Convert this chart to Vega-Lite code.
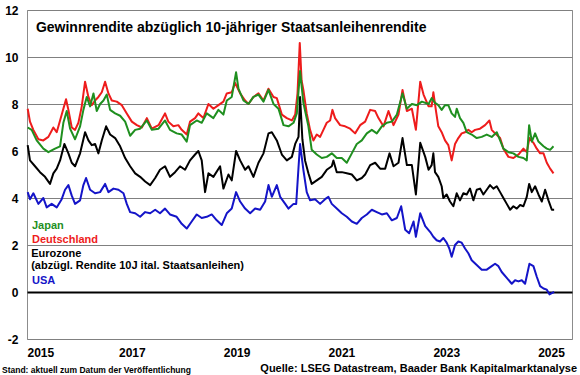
{
"$schema": "https://vega.github.io/schema/vega-lite/v6.json",
"width": 545, "height": 329,
"autosize": "none",
"padding": {"left": 27, "top": 10, "right": 8, "bottom": 36},
"background": "white",
"config": {"view": {"stroke": "#8c8c8c", "strokeWidth": 1}, "font": "Liberation Sans"},
"datasets": {
"lines": [
{"s":"USA","t":2015.013,"v":4.25},{"s":"USA","t":2015.057,"v":3.95},{"s":"USA","t":2015.121,"v":4.2},{"s":"USA","t":2015.217,"v":3.75},{"s":"USA","t":2015.312,"v":4.0},{"s":"USA","t":2015.376,"v":3.6},{"s":"USA","t":2015.471,"v":3.75},{"s":"USA","t":2015.567,"v":3.6},{"s":"USA","t":2015.662,"v":3.95},{"s":"USA","t":2015.726,"v":4.35},{"s":"USA","t":2015.79,"v":4.55},{"s":"USA","t":2015.854,"v":4.1},{"s":"USA","t":2015.917,"v":3.75},{"s":"USA","t":2016.013,"v":3.9},{"s":"USA","t":2016.076,"v":4.55},{"s":"USA","t":2016.127,"v":4.85},{"s":"USA","t":2016.204,"v":4.35},{"s":"USA","t":2016.299,"v":4.2},{"s":"USA","t":2016.395,"v":4.25},{"s":"USA","t":2016.49,"v":4.6},{"s":"USA","t":2016.554,"v":4.25},{"s":"USA","t":2016.65,"v":4.4},{"s":"USA","t":2016.745,"v":4.35},{"s":"USA","t":2016.841,"v":4.2},{"s":"USA","t":2016.904,"v":3.75},{"s":"USA","t":2016.968,"v":3.4},{"s":"USA","t":2017.064,"v":3.35},{"s":"USA","t":2017.159,"v":3.2},{"s":"USA","t":2017.255,"v":3.4},{"s":"USA","t":2017.35,"v":3.35},{"s":"USA","t":2017.446,"v":3.5},
{"s":"USA","t":2017.538,"v":3.35},{"s":"USA","t":2017.634,"v":3.55},{"s":"USA","t":2017.729,"v":3.3},{"s":"USA","t":2017.856,"v":3.2},{"s":"USA","t":2017.952,"v":2.9},{"s":"USA","t":2018.048,"v":2.7},{"s":"USA","t":2018.143,"v":3.0},{"s":"USA","t":2018.239,"v":3.3},{"s":"USA","t":2018.334,"v":3.15},{"s":"USA","t":2018.43,"v":3.2},{"s":"USA","t":2018.525,"v":3.3},{"s":"USA","t":2018.621,"v":3.05},{"s":"USA","t":2018.716,"v":2.85},{"s":"USA","t":2018.812,"v":3.35},{"s":"USA","t":2018.907,"v":3.55},{"s":"USA","t":2018.99,"v":4.25},{"s":"USA","t":2019.067,"v":3.85},{"s":"USA","t":2019.162,"v":3.55},{"s":"USA","t":2019.258,"v":3.35},{"s":"USA","t":2019.353,"v":3.55},{"s":"USA","t":2019.449,"v":3.5},{"s":"USA","t":2019.544,"v":3.85},{"s":"USA","t":2019.608,"v":4.55},{"s":"USA","t":2019.672,"v":4.05},{"s":"USA","t":2019.767,"v":4.55},{"s":"USA","t":2019.831,"v":4.05},{"s":"USA","t":2019.927,"v":3.75},{"s":"USA","t":2019.99,"v":3.55},{"s":"USA","t":2020.086,"v":3.75},{"s":"USA","t":2020.137,"v":3.75},{"s":"USA","t":2020.181,"v":5.3},
{"s":"USA","t":2020.211,"v":6.3},{"s":"USA","t":2020.274,"v":5.2},{"s":"USA","t":2020.338,"v":4.25},{"s":"USA","t":2020.402,"v":3.9},{"s":"USA","t":2020.497,"v":3.95},{"s":"USA","t":2020.593,"v":3.75},{"s":"USA","t":2020.688,"v":3.95},{"s":"USA","t":2020.752,"v":4.05},{"s":"USA","t":2020.816,"v":3.75},{"s":"USA","t":2020.911,"v":3.55},{"s":"USA","t":2021.007,"v":3.35},{"s":"USA","t":2021.102,"v":3.2},{"s":"USA","t":2021.198,"v":3.0},{"s":"USA","t":2021.293,"v":2.9},{"s":"USA","t":2021.389,"v":3.15},{"s":"USA","t":2021.484,"v":3.3},{"s":"USA","t":2021.58,"v":3.5},{"s":"USA","t":2021.675,"v":3.4},{"s":"USA","t":2021.771,"v":3.3},{"s":"USA","t":2021.867,"v":3.35},{"s":"USA","t":2021.962,"v":3.05},{"s":"USA","t":2022.058,"v":3.15},{"s":"USA","t":2022.14,"v":3.65},{"s":"USA","t":2022.217,"v":2.65},{"s":"USA","t":2022.293,"v":2.5},{"s":"USA","t":2022.376,"v":3.0},{"s":"USA","t":2022.421,"v":2.35},{"s":"USA","t":2022.504,"v":3.35},{"s":"USA","t":2022.599,"v":2.8},{"s":"USA","t":2022.695,"v":2.55},
{"s":"USA","t":2022.754,"v":2.35},{"s":"USA","t":2022.817,"v":2.2},{"s":"USA","t":2022.881,"v":2.15},{"s":"USA","t":2022.945,"v":2.3},{"s":"USA","t":2023.008,"v":2.1},{"s":"USA","t":2023.059,"v":1.85},{"s":"USA","t":2023.104,"v":1.5},{"s":"USA","t":2023.168,"v":2.0},{"s":"USA","t":2023.231,"v":2.15},{"s":"USA","t":2023.295,"v":2.1},{"s":"USA","t":2023.359,"v":1.85},{"s":"USA","t":2023.422,"v":1.65},{"s":"USA","t":2023.486,"v":1.35},{"s":"USA","t":2023.582,"v":1.15},{"s":"USA","t":2023.677,"v":0.95},{"s":"USA","t":2023.773,"v":0.95},{"s":"USA","t":2023.868,"v":1.1},{"s":"USA","t":2023.932,"v":1.2},{"s":"USA","t":2023.996,"v":1.1},{"s":"USA","t":2024.059,"v":0.85},{"s":"USA","t":2024.155,"v":0.6},{"s":"USA","t":2024.251,"v":0.35},{"s":"USA","t":2024.314,"v":0.5},{"s":"USA","t":2024.378,"v":0.45},{"s":"USA","t":2024.442,"v":0.5},{"s":"USA","t":2024.505,"v":0.35},{"s":"USA","t":2024.588,"v":1.2},{"s":"USA","t":2024.664,"v":1.1},{"s":"USA","t":2024.728,"v":0.65},{"s":"USA","t":2024.792,"v":0.25},{"s":"USA","t":2024.856,"v":0.15},{"s":"USA","t":2024.919,"v":0.1},{"s":"USA","t":2024.97,"v":-0.1},{"s":"USA","t":2025.015,"v":-0.05},{"s":"USA","t":2025.059,"v":0.0},

{"s":"Eurozone","t":2015.013,"v":6.25},{"s":"Eurozone","t":2015.057,"v":5.6},{"s":"Eurozone","t":2015.153,"v":5.35},{"s":"Eurozone","t":2015.248,"v":5.1},{"s":"Eurozone","t":2015.344,"v":4.9},{"s":"Eurozone","t":2015.439,"v":4.6},{"s":"Eurozone","t":2015.503,"v":5.05},{"s":"Eurozone","t":2015.567,"v":5.25},{"s":"Eurozone","t":2015.631,"v":5.6},{"s":"Eurozone","t":2015.713,"v":6.3},{"s":"Eurozone","t":2015.79,"v":5.9},{"s":"Eurozone","t":2015.854,"v":5.5},{"s":"Eurozone","t":2015.917,"v":5.35},{"s":"Eurozone","t":2016.013,"v":5.9},{"s":"Eurozone","t":2016.108,"v":6.8},{"s":"Eurozone","t":2016.172,"v":6.45},{"s":"Eurozone","t":2016.236,"v":6.25},{"s":"Eurozone","t":2016.299,"v":6.3},{"s":"Eurozone","t":2016.363,"v":5.9},{"s":"Eurozone","t":2016.427,"v":6.45},{"s":"Eurozone","t":2016.51,"v":7.05},{"s":"Eurozone","t":2016.586,"v":6.7},{"s":"Eurozone","t":2016.682,"v":6.55},{"s":"Eurozone","t":2016.777,"v":6.2},{"s":"Eurozone","t":2016.873,"v":5.7},{"s":"Eurozone","t":2016.968,"v":5.35},{"s":"Eurozone","t":2017.064,"v":5.05},{"s":"Eurozone","t":2017.159,"v":4.9},{"s":"Eurozone","t":2017.255,"v":4.7},{"s":"Eurozone","t":2017.35,"v":4.55},{"s":"Eurozone","t":2017.446,"v":4.85},
{"s":"Eurozone","t":2017.538,"v":5.2},{"s":"Eurozone","t":2017.634,"v":5.35},{"s":"Eurozone","t":2017.729,"v":4.9},{"s":"Eurozone","t":2017.825,"v":5.1},{"s":"Eurozone","t":2017.92,"v":5.35},{"s":"Eurozone","t":2018.016,"v":5.2},{"s":"Eurozone","t":2018.111,"v":5.6},{"s":"Eurozone","t":2018.207,"v":5.85},{"s":"Eurozone","t":2018.27,"v":6.0},{"s":"Eurozone","t":2018.334,"v":5.6},{"s":"Eurozone","t":2018.398,"v":4.25},{"s":"Eurozone","t":2018.462,"v":5.05},{"s":"Eurozone","t":2018.557,"v":4.9},{"s":"Eurozone","t":2018.685,"v":5.35},{"s":"Eurozone","t":2018.748,"v":4.4},{"s":"Eurozone","t":2018.844,"v":5.0},{"s":"Eurozone","t":2018.907,"v":4.75},{"s":"Eurozone","t":2018.99,"v":6.0},{"s":"Eurozone","t":2019.067,"v":5.6},{"s":"Eurozone","t":2019.162,"v":5.2},{"s":"Eurozone","t":2019.226,"v":5.35},{"s":"Eurozone","t":2019.321,"v":4.9},{"s":"Eurozone","t":2019.417,"v":5.5},{"s":"Eurozone","t":2019.513,"v":5.9},{"s":"Eurozone","t":2019.608,"v":6.75},{"s":"Eurozone","t":2019.672,"v":6.8},{"s":"Eurozone","t":2019.767,"v":6.45},{"s":"Eurozone","t":2019.863,"v":5.85},{"s":"Eurozone","t":2019.958,"v":5.6},{"s":"Eurozone","t":2020.054,"v":5.75},{"s":"Eurozone","t":2020.118,"v":6.3},{"s":"Eurozone","t":2020.181,"v":6.6},
{"s":"Eurozone","t":2020.211,"v":8.3},{"s":"Eurozone","t":2020.255,"v":6.5},{"s":"Eurozone","t":2020.306,"v":5.6},{"s":"Eurozone","t":2020.37,"v":5.05},{"s":"Eurozone","t":2020.433,"v":4.6},{"s":"Eurozone","t":2020.529,"v":4.75},{"s":"Eurozone","t":2020.625,"v":4.9},{"s":"Eurozone","t":2020.72,"v":5.2},{"s":"Eurozone","t":2020.816,"v":5.35},{"s":"Eurozone","t":2020.847,"v":5.6},{"s":"Eurozone","t":2020.911,"v":5.1},{"s":"Eurozone","t":2021.007,"v":5.1},{"s":"Eurozone","t":2021.102,"v":5.05},{"s":"Eurozone","t":2021.198,"v":5.0},{"s":"Eurozone","t":2021.293,"v":4.75},{"s":"Eurozone","t":2021.389,"v":4.85},{"s":"Eurozone","t":2021.453,"v":5.0},{"s":"Eurozone","t":2021.548,"v":5.4},{"s":"Eurozone","t":2021.644,"v":5.5},{"s":"Eurozone","t":2021.739,"v":5.25},{"s":"Eurozone","t":2021.835,"v":5.25},{"s":"Eurozone","t":2021.918,"v":5.9},{"s":"Eurozone","t":2021.994,"v":5.35},{"s":"Eurozone","t":2022.089,"v":5.5},{"s":"Eurozone","t":2022.166,"v":6.55},{"s":"Eurozone","t":2022.249,"v":5.4},{"s":"Eurozone","t":2022.344,"v":5.4},{"s":"Eurozone","t":2022.421,"v":4.15},{"s":"Eurozone","t":2022.504,"v":6.35},{"s":"Eurozone","t":2022.599,"v":5.75},{"s":"Eurozone","t":2022.663,"v":5.2},
{"s":"Eurozone","t":2022.722,"v":5.4},{"s":"Eurozone","t":2022.754,"v":5.9},{"s":"Eurozone","t":2022.786,"v":5.1},{"s":"Eurozone","t":2022.849,"v":4.9},{"s":"Eurozone","t":2022.913,"v":4.5},{"s":"Eurozone","t":2022.945,"v":4.0},{"s":"Eurozone","t":2023.008,"v":4.15},{"s":"Eurozone","t":2023.072,"v":3.85},{"s":"Eurozone","t":2023.136,"v":3.65},{"s":"Eurozone","t":2023.2,"v":4.2},{"s":"Eurozone","t":2023.263,"v":3.9},{"s":"Eurozone","t":2023.327,"v":4.2},{"s":"Eurozone","t":2023.391,"v":4.15},{"s":"Eurozone","t":2023.454,"v":4.4},{"s":"Eurozone","t":2023.518,"v":3.9},{"s":"Eurozone","t":2023.582,"v":4.35},{"s":"Eurozone","t":2023.645,"v":4.4},{"s":"Eurozone","t":2023.709,"v":4.15},{"s":"Eurozone","t":2023.773,"v":4.35},{"s":"Eurozone","t":2023.836,"v":4.55},{"s":"Eurozone","t":2023.9,"v":4.4},{"s":"Eurozone","t":2023.964,"v":4.5},{"s":"Eurozone","t":2024.028,"v":4.25},{"s":"Eurozone","t":2024.091,"v":4.0},{"s":"Eurozone","t":2024.155,"v":3.75},{"s":"Eurozone","t":2024.219,"v":3.5},{"s":"Eurozone","t":2024.282,"v":3.65},{"s":"Eurozone","t":2024.346,"v":3.55},{"s":"Eurozone","t":2024.41,"v":3.7},{"s":"Eurozone","t":2024.473,"v":3.65},{"s":"Eurozone","t":2024.537,"v":4.05},{"s":"Eurozone","t":2024.582,"v":4.6},{"s":"Eurozone","t":2024.633,"v":4.25},{"s":"Eurozone","t":2024.696,"v":4.5},{"s":"Eurozone","t":2024.76,"v":4.15},{"s":"Eurozone","t":2024.824,"v":3.85},{"s":"Eurozone","t":2024.887,"v":4.35},{"s":"Eurozone","t":2024.951,"v":3.9},{"s":"Eurozone","t":2025.015,"v":3.5},{"s":"Eurozone","t":2025.059,"v":3.5},

{"s":"Deutschland","t":2015.013,"v":7.8},{"s":"Deutschland","t":2015.057,"v":7.25},{"s":"Deutschland","t":2015.121,"v":6.9},{"s":"Deutschland","t":2015.217,"v":6.5},{"s":"Deutschland","t":2015.312,"v":6.45},{"s":"Deutschland","t":2015.408,"v":6.6},{"s":"Deutschland","t":2015.503,"v":7.0},{"s":"Deutschland","t":2015.567,"v":6.8},{"s":"Deutschland","t":2015.631,"v":7.3},{"s":"Deutschland","t":2015.694,"v":7.8},{"s":"Deutschland","t":2015.745,"v":8.2},{"s":"Deutschland","t":2015.79,"v":7.75},{"s":"Deutschland","t":2015.854,"v":7.0},{"s":"Deutschland","t":2015.917,"v":6.9},{"s":"Deutschland","t":2015.981,"v":7.2},{"s":"Deutschland","t":2016.045,"v":7.9},{"s":"Deutschland","t":2016.108,"v":8.95},{"s":"Deutschland","t":2016.172,"v":8.3},{"s":"Deutschland","t":2016.236,"v":7.95},{"s":"Deutschland","t":2016.299,"v":8.15},{"s":"Deutschland","t":2016.363,"v":8.3},{"s":"Deutschland","t":2016.427,"v":8.5},{"s":"Deutschland","t":2016.49,"v":8.95},{"s":"Deutschland","t":2016.554,"v":8.45},{"s":"Deutschland","t":2016.618,"v":8.15},{"s":"Deutschland","t":2016.713,"v":8.1},{"s":"Deutschland","t":2016.809,"v":7.95},{"s":"Deutschland","t":2016.904,"v":7.6},{"s":"Deutschland","t":2017.0,"v":7.25},{"s":"Deutschland","t":2017.096,"v":7.1},{"s":"Deutschland","t":2017.191,"v":7.0},{"s":"Deutschland","t":2017.287,"v":7.4},{"s":"Deutschland","t":2017.382,"v":6.95},{"s":"Deutschland","t":2017.51,"v":7.1},
{"s":"Deutschland","t":2017.634,"v":7.6},{"s":"Deutschland","t":2017.697,"v":7.25},{"s":"Deutschland","t":2017.793,"v":7.05},{"s":"Deutschland","t":2017.888,"v":7.1},{"s":"Deutschland","t":2017.952,"v":6.9},{"s":"Deutschland","t":2018.048,"v":6.7},{"s":"Deutschland","t":2018.111,"v":7.25},{"s":"Deutschland","t":2018.207,"v":7.4},{"s":"Deutschland","t":2018.27,"v":7.6},{"s":"Deutschland","t":2018.366,"v":7.4},{"s":"Deutschland","t":2018.462,"v":8.0},{"s":"Deutschland","t":2018.557,"v":7.8},{"s":"Deutschland","t":2018.653,"v":7.95},{"s":"Deutschland","t":2018.748,"v":8.1},{"s":"Deutschland","t":2018.812,"v":8.45},{"s":"Deutschland","t":2018.907,"v":8.5},{"s":"Deutschland","t":2018.971,"v":8.9},{"s":"Deutschland","t":2019.067,"v":8.45},{"s":"Deutschland","t":2019.162,"v":8.15},{"s":"Deutschland","t":2019.226,"v":8.0},{"s":"Deutschland","t":2019.321,"v":8.3},{"s":"Deutschland","t":2019.417,"v":8.45},{"s":"Deutschland","t":2019.513,"v":8.15},{"s":"Deutschland","t":2019.608,"v":8.65},{"s":"Deutschland","t":2019.704,"v":8.3},{"s":"Deutschland","t":2019.767,"v":8.25},{"s":"Deutschland","t":2019.863,"v":7.55},{"s":"Deutschland","t":2019.958,"v":7.4},{"s":"Deutschland","t":2020.054,"v":7.3},{"s":"Deutschland","t":2020.118,"v":7.55},{"s":"Deutschland","t":2020.162,"v":8.45},
{"s":"Deutschland","t":2020.205,"v":10.6},{"s":"Deutschland","t":2020.24,"v":9.0},{"s":"Deutschland","t":2020.274,"v":8.6},{"s":"Deutschland","t":2020.338,"v":7.6},{"s":"Deutschland","t":2020.402,"v":6.9},{"s":"Deutschland","t":2020.465,"v":6.45},{"s":"Deutschland","t":2020.529,"v":6.7},{"s":"Deutschland","t":2020.593,"v":6.6},{"s":"Deutschland","t":2020.656,"v":6.9},{"s":"Deutschland","t":2020.72,"v":7.2},{"s":"Deutschland","t":2020.784,"v":7.3},{"s":"Deutschland","t":2020.828,"v":7.75},{"s":"Deutschland","t":2020.879,"v":7.4},{"s":"Deutschland","t":2020.975,"v":7.1},{"s":"Deutschland","t":2021.07,"v":7.05},{"s":"Deutschland","t":2021.166,"v":6.95},{"s":"Deutschland","t":2021.261,"v":6.75},{"s":"Deutschland","t":2021.357,"v":7.1},{"s":"Deutschland","t":2021.453,"v":7.25},{"s":"Deutschland","t":2021.548,"v":7.75},{"s":"Deutschland","t":2021.644,"v":7.7},{"s":"Deutschland","t":2021.707,"v":7.4},{"s":"Deutschland","t":2021.803,"v":7.05},{"s":"Deutschland","t":2021.898,"v":7.7},{"s":"Deutschland","t":2021.994,"v":7.1},{"s":"Deutschland","t":2022.089,"v":7.55},{"s":"Deutschland","t":2022.166,"v":8.6},{"s":"Deutschland","t":2022.249,"v":7.7},{"s":"Deutschland","t":2022.344,"v":7.8},{"s":"Deutschland","t":2022.421,"v":6.9},{"s":"Deutschland","t":2022.504,"v":8.95},{"s":"Deutschland","t":2022.567,"v":8.4},{"s":"Deutschland","t":2022.663,"v":7.9},
{"s":"Deutschland","t":2022.722,"v":7.9},{"s":"Deutschland","t":2022.754,"v":8.5},{"s":"Deutschland","t":2022.805,"v":7.7},{"s":"Deutschland","t":2022.849,"v":7.05},{"s":"Deutschland","t":2022.913,"v":6.8},{"s":"Deutschland","t":2022.977,"v":6.45},{"s":"Deutschland","t":2023.04,"v":6.25},{"s":"Deutschland","t":2023.104,"v":5.6},{"s":"Deutschland","t":2023.168,"v":6.3},{"s":"Deutschland","t":2023.231,"v":6.55},{"s":"Deutschland","t":2023.295,"v":6.75},{"s":"Deutschland","t":2023.359,"v":6.8},{"s":"Deutschland","t":2023.422,"v":6.9},{"s":"Deutschland","t":2023.486,"v":6.8},{"s":"Deutschland","t":2023.55,"v":6.9},{"s":"Deutschland","t":2023.645,"v":6.95},{"s":"Deutschland","t":2023.741,"v":7.1},{"s":"Deutschland","t":2023.824,"v":7.3},{"s":"Deutschland","t":2023.868,"v":6.9},{"s":"Deutschland","t":2023.932,"v":6.75},{"s":"Deutschland","t":2024.028,"v":6.55},{"s":"Deutschland","t":2024.091,"v":6.1},{"s":"Deutschland","t":2024.187,"v":5.75},{"s":"Deutschland","t":2024.282,"v":5.7},{"s":"Deutschland","t":2024.378,"v":5.85},{"s":"Deutschland","t":2024.473,"v":6.1},{"s":"Deutschland","t":2024.537,"v":5.95},{"s":"Deutschland","t":2024.588,"v":6.55},{"s":"Deutschland","t":2024.664,"v":6.35},{"s":"Deutschland","t":2024.728,"v":6.1},{"s":"Deutschland","t":2024.792,"v":5.9},{"s":"Deutschland","t":2024.856,"v":5.9},{"s":"Deutschland","t":2024.919,"v":5.5},{"s":"Deutschland","t":2024.983,"v":5.25},{"s":"Deutschland","t":2025.047,"v":5.05},

{"s":"Japan","t":2015.013,"v":7.0},{"s":"Japan","t":2015.089,"v":6.9},{"s":"Japan","t":2015.185,"v":6.45},{"s":"Japan","t":2015.312,"v":6.1},{"s":"Japan","t":2015.408,"v":5.95},{"s":"Japan","t":2015.535,"v":6.1},{"s":"Japan","t":2015.631,"v":6.2},{"s":"Japan","t":2015.694,"v":7.2},{"s":"Japan","t":2015.758,"v":7.7},{"s":"Japan","t":2015.822,"v":6.95},{"s":"Japan","t":2015.917,"v":6.5},{"s":"Japan","t":2016.013,"v":7.05},{"s":"Japan","t":2016.076,"v":7.75},{"s":"Japan","t":2016.14,"v":8.3},{"s":"Japan","t":2016.204,"v":7.9},{"s":"Japan","t":2016.268,"v":8.45},{"s":"Japan","t":2016.331,"v":7.7},{"s":"Japan","t":2016.395,"v":8.0},{"s":"Japan","t":2016.459,"v":8.15},{"s":"Japan","t":2016.522,"v":8.4},{"s":"Japan","t":2016.586,"v":7.75},{"s":"Japan","t":2016.682,"v":7.6},{"s":"Japan","t":2016.777,"v":7.5},{"s":"Japan","t":2016.873,"v":7.25},{"s":"Japan","t":2016.968,"v":6.65},{"s":"Japan","t":2017.064,"v":6.9},{"s":"Japan","t":2017.159,"v":6.95},{"s":"Japan","t":2017.287,"v":7.3},{"s":"Japan","t":2017.382,"v":6.9},{"s":"Japan","t":2017.51,"v":6.95},
{"s":"Japan","t":2017.634,"v":7.3},{"s":"Japan","t":2017.729,"v":6.9},{"s":"Japan","t":2017.856,"v":6.75},{"s":"Japan","t":2017.952,"v":6.7},{"s":"Japan","t":2018.048,"v":6.4},{"s":"Japan","t":2018.111,"v":7.1},{"s":"Japan","t":2018.239,"v":7.3},{"s":"Japan","t":2018.334,"v":7.2},{"s":"Japan","t":2018.43,"v":7.6},{"s":"Japan","t":2018.557,"v":7.4},{"s":"Japan","t":2018.653,"v":7.75},{"s":"Japan","t":2018.748,"v":7.55},{"s":"Japan","t":2018.812,"v":8.15},{"s":"Japan","t":2018.907,"v":8.3},{"s":"Japan","t":2018.99,"v":9.35},{"s":"Japan","t":2019.035,"v":8.65},{"s":"Japan","t":2019.13,"v":8.15},{"s":"Japan","t":2019.226,"v":8.0},{"s":"Japan","t":2019.321,"v":8.3},{"s":"Japan","t":2019.417,"v":8.4},{"s":"Japan","t":2019.513,"v":8.1},{"s":"Japan","t":2019.608,"v":8.6},{"s":"Japan","t":2019.704,"v":8.0},{"s":"Japan","t":2019.799,"v":7.8},{"s":"Japan","t":2019.895,"v":7.1},{"s":"Japan","t":2019.99,"v":7.05},{"s":"Japan","t":2020.086,"v":7.2},{"s":"Japan","t":2020.149,"v":7.6},
{"s":"Japan","t":2020.211,"v":9.4},{"s":"Japan","t":2020.274,"v":8.05},{"s":"Japan","t":2020.37,"v":7.05},{"s":"Japan","t":2020.433,"v":6.05},{"s":"Japan","t":2020.529,"v":5.85},{"s":"Japan","t":2020.625,"v":5.7},{"s":"Japan","t":2020.72,"v":5.75},{"s":"Japan","t":2020.816,"v":5.9},{"s":"Japan","t":2020.911,"v":5.7},{"s":"Japan","t":2021.007,"v":5.7},{"s":"Japan","t":2021.102,"v":5.5},{"s":"Japan","t":2021.198,"v":5.9},{"s":"Japan","t":2021.293,"v":6.3},{"s":"Japan","t":2021.389,"v":6.45},{"s":"Japan","t":2021.484,"v":6.75},{"s":"Japan","t":2021.58,"v":6.9},{"s":"Japan","t":2021.675,"v":6.75},{"s":"Japan","t":2021.771,"v":7.05},{"s":"Japan","t":2021.867,"v":7.2},{"s":"Japan","t":2021.962,"v":7.25},{"s":"Japan","t":2022.058,"v":7.55},{"s":"Japan","t":2022.166,"v":8.45},{"s":"Japan","t":2022.249,"v":7.8},{"s":"Japan","t":2022.344,"v":8.0},{"s":"Japan","t":2022.44,"v":7.95},{"s":"Japan","t":2022.535,"v":8.1},{"s":"Japan","t":2022.663,"v":8.0},
{"s":"Japan","t":2022.722,"v":8.25},{"s":"Japan","t":2022.786,"v":8.05},{"s":"Japan","t":2022.849,"v":7.95},{"s":"Japan","t":2022.913,"v":7.75},{"s":"Japan","t":2022.977,"v":7.95},{"s":"Japan","t":2023.04,"v":7.95},{"s":"Japan","t":2023.104,"v":7.6},{"s":"Japan","t":2023.168,"v":7.45},{"s":"Japan","t":2023.2,"v":7.8},{"s":"Japan","t":2023.263,"v":7.4},{"s":"Japan","t":2023.327,"v":7.2},{"s":"Japan","t":2023.391,"v":6.8},{"s":"Japan","t":2023.486,"v":6.7},{"s":"Japan","t":2023.582,"v":6.55},{"s":"Japan","t":2023.677,"v":6.6},{"s":"Japan","t":2023.773,"v":6.7},{"s":"Japan","t":2023.868,"v":6.6},{"s":"Japan","t":2023.964,"v":6.8},{"s":"Japan","t":2024.028,"v":6.45},{"s":"Japan","t":2024.091,"v":6.1},{"s":"Japan","t":2024.187,"v":5.95},{"s":"Japan","t":2024.282,"v":5.9},{"s":"Japan","t":2024.378,"v":5.75},{"s":"Japan","t":2024.473,"v":5.7},{"s":"Japan","t":2024.537,"v":5.6},{"s":"Japan","t":2024.582,"v":7.1},{"s":"Japan","t":2024.633,"v":6.4},{"s":"Japan","t":2024.696,"v":6.75},{"s":"Japan","t":2024.76,"v":6.4},{"s":"Japan","t":2024.856,"v":6.2},{"s":"Japan","t":2024.919,"v":6.1},{"s":"Japan","t":2024.983,"v":6.05},{"s":"Japan","t":2025.047,"v":6.2}
],
"labels": [
{"s":"Japan","txt":"Japan","t":2015.095,"v":2.69},
{"s":"Deutschland","txt":"Deutschland","t":2015.095,"v":2.07},
{"s":"Eurozone","txt":"Eurozone","t":2015.08,"v":1.5},
{"s":"Eurozone","txt":"(abzügl. Rendite 10J ital. Staatsanleihen)","t":2015.08,"v":0.99},
{"s":"USA","txt":"USA","t":2015.095,"v":0.34}
],
"title": [{"txt":"Gewinnrendite abzüglich 10-jähriger Staatsanleihenrendite","t":2015.17,"v":11.06}],
"stand": [{"txt":"Stand: aktuell zum Datum der Veröffentlichung","t":2014.523,"v":-3.45}],
"quelle": [{"txt":"Quelle: LSEG Datastream, Baader Bank Kapitalmarktanalyse","t":2025.496,"v":-3.4}]
},
"layer": [
{
"data": {"name": "lines"},
"mark": {"type": "line", "strokeWidth": 2, "strokeJoin": "round"},
"encoding": {
"x": {"field": "t", "type": "quantitative", "scale": {"domain": [2015, 2025.4], "nice": false, "zero": false},
"axis": {"values": [2015, 2017, 2019, 2021, 2023, 2025], "format": "d", "title": null, "grid": false, "ticks": false, "domain": false, "labelFontSize": 12, "labelFontWeight": "bold", "labelColor": "#000", "labelPadding": 8, "labelFont": "Liberation Sans"}},
"y": {"field": "v", "type": "quantitative", "scale": {"domain": [-2, 12], "nice": false, "zero": false},
"axis": {"values": [-2, 0, 2, 4, 6, 8, 10, 12], "title": null, "grid": true, "ticks": false, "domain": false,
"labelExpr": "datum.value < 0 ? '-' + abs(datum.value) : datum.label",
"gridColor": {"condition": {"test": "datum.value === 0", "value": "#000000"}, "value": "#808080"},
"gridWidth": {"condition": {"test": "datum.value === 0", "value": 2}, "value": 1},
"labelFontSize": 12, "labelFontWeight": "bold", "labelColor": "#000", "labelPadding": 9, "labelFont": "Liberation Sans"}},
"color": {"field": "s", "type": "nominal", "scale": {"domain": ["USA", "Eurozone", "Deutschland", "Japan"], "range": ["#1414c8", "#000000", "#ee1c1c", "#1f8f1f"]}, "legend": null}
}
},
{
"data": {"name": "labels"},
"mark": {"type": "text", "align": "left", "baseline": "alphabetic", "fontSize": 11, "fontWeight": "bold", "font": "Liberation Sans"},
"encoding": {
"x": {"field": "t", "type": "quantitative", "scale": {"domain": [2015, 2025.4], "nice": false, "zero": false}},
"y": {"field": "v", "type": "quantitative", "scale": {"domain": [-2, 12], "nice": false, "zero": false}},
"text": {"field": "txt"},
"color": {"field": "s", "type": "nominal", "scale": {"domain": ["USA", "Eurozone", "Deutschland", "Japan"], "range": ["#1414c8", "#000000", "#ee1c1c", "#1f8f1f"]}, "legend": null}
}
},
{
"data": {"name": "title"},
"mark": {"type": "text", "align": "left", "baseline": "alphabetic", "fontSize": 14, "fontWeight": "bold", "font": "Liberation Sans", "color": "#000"},
"encoding": {
"x": {"field": "t", "type": "quantitative", "scale": {"domain": [2015, 2025.4], "nice": false, "zero": false}},
"y": {"field": "v", "type": "quantitative", "scale": {"domain": [-2, 12], "nice": false, "zero": false}},
"text": {"field": "txt"}
}
},
{
"data": {"name": "stand"},
"mark": {"type": "text", "align": "left", "baseline": "alphabetic", "fontSize": 8.5, "fontWeight": "bold", "font": "Liberation Sans", "color": "#000"},
"encoding": {
"x": {"field": "t", "type": "quantitative", "scale": {"domain": [2015, 2025.4], "nice": false, "zero": false}},
"y": {"field": "v", "type": "quantitative", "scale": {"domain": [-2, 12], "nice": false, "zero": false}},
"text": {"field": "txt"}
}
},
{
"data": {"name": "quelle"},
"mark": {"type": "text", "align": "right", "baseline": "alphabetic", "fontSize": 11, "fontWeight": "bold", "font": "Liberation Sans", "color": "#000"},
"encoding": {
"x": {"field": "t", "type": "quantitative", "scale": {"domain": [2015, 2025.4], "nice": false, "zero": false}},
"y": {"field": "v", "type": "quantitative", "scale": {"domain": [-2, 12], "nice": false, "zero": false}},
"text": {"field": "txt"}
}
}
]
}
